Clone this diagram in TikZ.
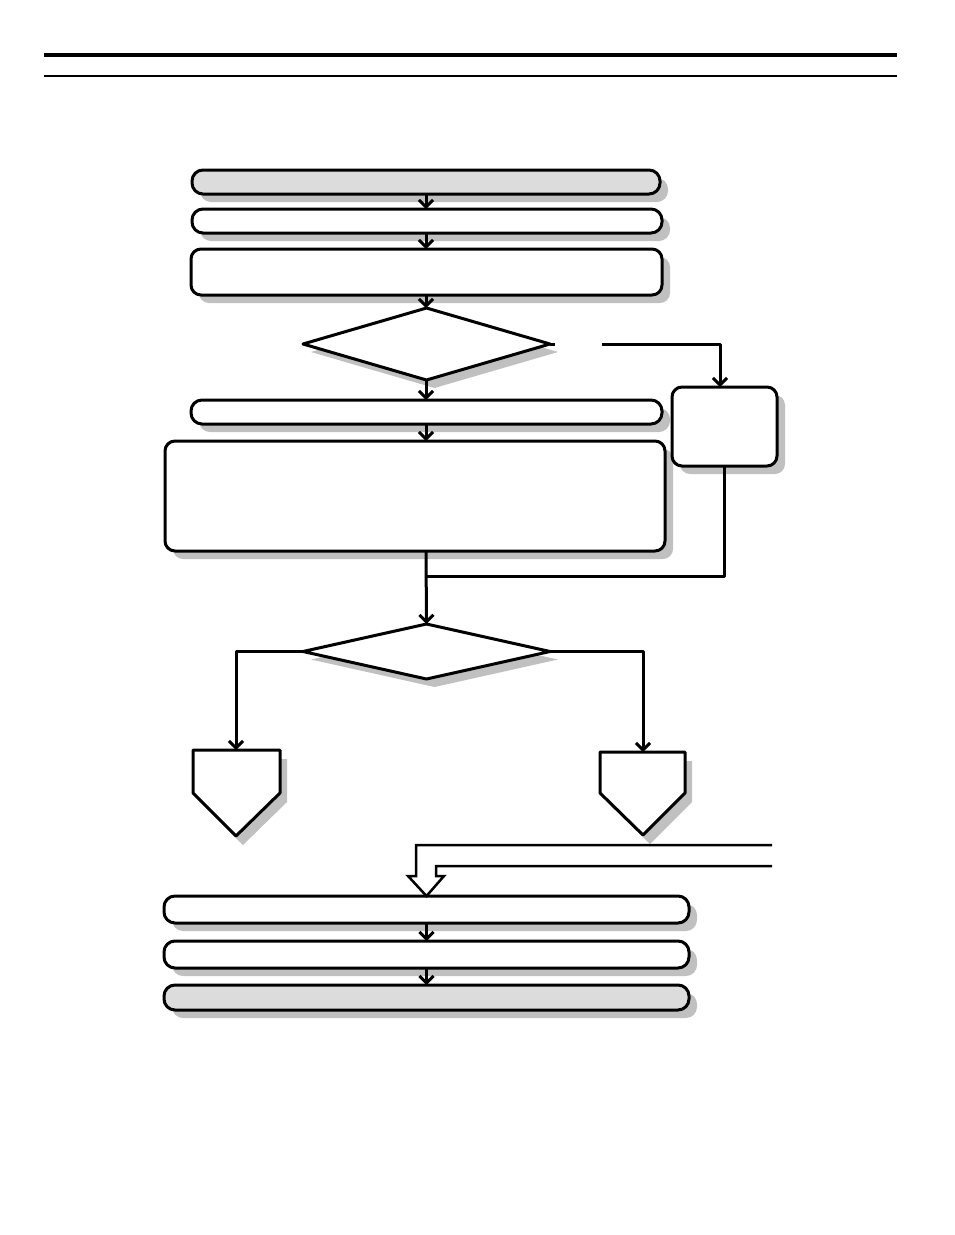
\documentclass[tikz,border=0pt]{standalone}
\usetikzlibrary{arrows.meta,shapes.geometric,shadows}
\definecolor{shadowgray}{HTML}{C0C0C0}
\definecolor{boxgray}{HTML}{DCDCDC}
\begin{document}
\begin{tikzpicture}[x=1pt,y=-1pt,
  line join=round,
  shad/.style={drop shadow={shadow xshift=8pt,shadow yshift=-8pt,fill=shadowgray,opacity=1}},
  box/.style={draw,line width=3pt,fill=white,inner sep=0pt,outer sep=0pt,rounded corners=#1,shad},
  box/.default=10pt,
  dia/.style={draw,diamond,line width=3pt,fill=white,inner sep=0pt,outer sep=0pt,shad},
  conn/.style={line width=3pt,-{Straight Barb[length=7pt,width=14pt]}},
  line/.style={line width=3pt}]
\useasboundingbox (0,0) rectangle (954,1235);
% header rules
\draw[line width=3.5pt] (44,55) -- (897,55);
\draw[line width=1.3pt] (44,76) -- (897,76);
% boxes
\node[box=11pt,fill=boxgray,minimum width=468pt,minimum height=24pt] (b1) at (426,182) {};
\node[box=11pt,minimum width=470pt,minimum height=24pt] (b2) at (427,221) {};
\node[box=10pt,minimum width=471pt,minimum height=46pt] (b3) at (426.5,272) {};
\node[dia,minimum width=247pt,minimum height=72pt] (d1) at (426.5,344) {};
\node[box=11pt,minimum width=471pt,minimum height=24pt] (b4) at (426.5,412) {};
\node[box=10pt,minimum width=500pt,minimum height=110pt] (b5) at (415,496) {};
\node[box=10pt,minimum width=105pt,minimum height=79pt] (rb) at (724.5,426.5) {};
\node[dia,minimum width=247pt,minimum height=55pt] (d2) at (426.5,651.5) {};
\node[box=11pt,minimum width=525pt,minimum height=27pt] (b6) at (426.5,909.5) {};
\node[box=11pt,minimum width=525pt,minimum height=27pt] (b7) at (426.5,954.5) {};
\node[box=11pt,fill=boxgray,minimum width=525pt,minimum height=25pt] (b8) at (426.5,997.5) {};
% pentagons (off-page connectors)
\fill[shadowgray,shift={(7pt,-9pt)}] (193,750) -- (280,750) -- (280,793) -- (236,836) -- (193,793) -- cycle;
\draw[line width=3pt,fill=white] (193,750) -- (280,750) -- (280,793) -- (236,836) -- (193,793) -- cycle;
\coordinate (p1) at (236,750);
\fill[shadowgray,shift={(7pt,-9pt)}] (600,752) -- (685,752) -- (685,793) -- (643,835) -- (600,793) -- cycle;
\draw[line width=3pt,fill=white] (600,752) -- (685,752) -- (685,793) -- (643,835) -- (600,793) -- cycle;
\coordinate (p2) at (643,752);
% connectors
\draw[conn] (b1.south -| 426,0) -- (b2.north -| 426,0);
\draw[conn] (b2.south -| 426,0) -- (b3.north -| 426,0);
\draw[conn] (b3.south -| 426,0) -- (d1.north -| 426,0);
\draw[conn] (d1.south -| 426,0) -- (b4.north -| 426,0);
\draw[conn] (b4.south -| 426,0) -- (b5.north -| 426,0);
\coordinate (gap) at (602,344);
\coordinate (rbin) at (720,387);
\draw[line] (d1.east) -- ++(5,0);
\draw[conn] (gap) -| (rbin);
\coordinate (merge) at (426,576);
\draw[line] (rb.south) |- (merge);
\draw[conn] (b5.south -| 426,0) -- (d2.north);
\draw[conn] (d2.west) -| (p1);
\draw[conn] (d2.east) -| (p2);
\draw[conn] (b6.south) -- (b7.north);
\draw[conn] (b7.south) -- (b8.north);
% incoming hollow arrow
\draw[line width=2.5pt,line join=miter] (772,845) -- (416,845) -- (416,876) -- (408,876) -- (b6.north) -- (444,876) -- (436,876) -- (436,866) -- (772,866);
\end{tikzpicture}
\end{document}
